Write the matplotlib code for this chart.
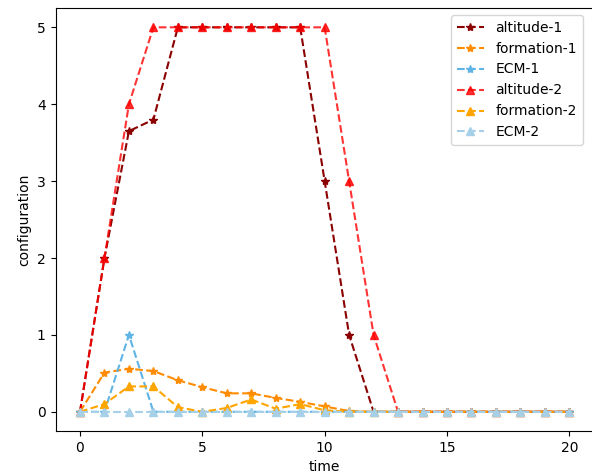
import numpy as np
import matplotlib.pyplot as plt

# data
time = np.arange(21)
altitude_1 = [0, 2, 3.65, 3.8, 5, 5, 5, 5, 5, 5, 3, 1, 0, 0, 0, 0, 0, 0, 0, 0, 0]
formation_1 = [0, 0.51, 0.56, 0.53, 0.41, 0.32, 0.24, 0.24, 0.18, 0.13, 0.07, 0.01, 0, 0, 0, 0, 0, 0, 0, 0, 0]
ecm_1 = [0, 0, 1, 0, 0, 0, 0, 0, 0, 0, 0, 0, 0, 0, 0, 0, 0, 0, 0, 0, 0]
altitude_2 = [0, 2, 4, 5, 5, 5, 5, 5, 5, 5, 5, 3, 1, 0, 0, 0, 0, 0, 0, 0, 0]
formation_2 = [0, 0.1, 0.33, 0.33, 0.06, 0, 0.05, 0.16, 0.04, 0.1, 0.02, 0, 0, 0, 0, 0, 0, 0, 0, 0, 0]
ecm_2 = [0] * 21

fig, ax = plt.subplots(figsize=(5.92, 4.76), dpi=100)

ax.plot(time, altitude_1, '--*', color='darkred', label='altitude-1')
ax.plot(time, formation_1, '--*', color='darkorange', label='formation-1')
ax.plot(time, ecm_1, '--*', color='#5fb4e6', label='ECM-1')
ax.plot(time, altitude_2, '--^', color='red', alpha=0.8, label='altitude-2')
ax.plot(time, formation_2, '--^', color='orange', label='formation-2')
ax.plot(time, ecm_2, '--^', color='#a6cfe8', label='ECM-2')

ax.set_xlabel('time')
ax.set_ylabel('configuration')
ax.set_xticks([0, 5, 10, 15, 20])
ax.legend(loc='upper right', bbox_to_anchor=(0.992, 1.0))

# the original image is cropped on the right, so the right spine sits just outside
plt.subplots_adjust(left=0.0938, right=1.003, top=0.983, bottom=0.0945)
plt.savefig('out.png')
